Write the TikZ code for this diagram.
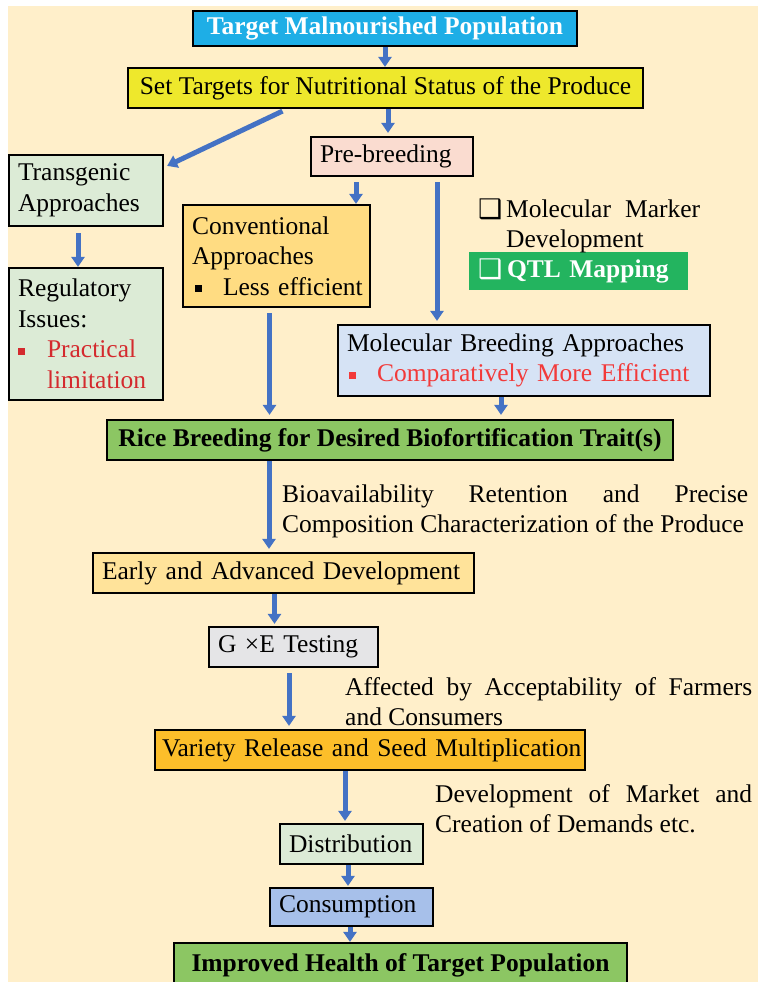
\documentclass[tikz,border=0pt]{standalone}
\usepackage{fontspec}
\setmainfont{Liberation Serif}
\newfontfamily\djv{DejaVu Sans}
\usetikzlibrary{arrows.meta}
\definecolor{bgc}{HTML}{FFEFCA}
\definecolor{tmpc}{HTML}{1EAEE6}
\definecolor{setc}{HTML}{EEE82C}
\definecolor{prec}{HTML}{FADCD0}
\definecolor{lgc}{HTML}{DCEBD6}
\definecolor{convc}{HTML}{FFDC82}
\definecolor{molc}{HTML}{D6E3F5}
\definecolor{qtlc}{HTML}{23B45F}
\definecolor{grc}{HTML}{8CC663}
\definecolor{earlyc}{HTML}{FFE39A}
\definecolor{gxec}{HTML}{E5E5E7}
\definecolor{varc}{HTML}{FCBE2A}
\definecolor{consc}{HTML}{A7C0EA}
\definecolor{arrc}{HTML}{4472C4}
\definecolor{redA}{HTML}{D42A2E}
\definecolor{redB}{HTML}{F23A3A}
\newcommand\fs{\fontsize{25.5}{30.5}\selectfont}
\newcommand\fsb{\fontsize{25.5}{30.5}\selectfont\bfseries}
\newcommand\bul[1]{\textcolor{#1}{\rule[3pt]{7pt}{7pt}}}
\newcommand\sqbox{\raisebox{-1pt}[0pt][0pt]{\djv\fontsize{27}{27}\selectfont ❑}}
\begin{document}
\begin{tikzpicture}[x=1pt,y=-1pt,
  box/.style={draw=black, line width=2.2pt, inner sep=0pt, inner xsep=9pt, font=\fs, text=black},
  lbox/.style={box, align=left},
  cbox/.style={box, align=center, font=\fsb},
  free/.style={inner sep=0pt, font=\fs, align=left, anchor=north west},
  arr/.style={draw=arrc, line width=5pt, -{Triangle[width=13pt,length=10pt]}}]
\useasboundingbox (0,0) rectangle (758,982);
\fill[bgc] (8,6) rectangle (758,982);

% boxes
\node[cbox, fill=tmpc, text=white, minimum width=384pt, minimum height=35pt] (tmp) at (385,28.5) {Target Malnourished Population};
\node[box, fill=setc, minimum width=515pt, minimum height=40pt] (set) at (385.5,88) {Set Targets for Nutritional Status of the Produce};
\node[lbox, fill=prec, text width=144pt, minimum height=39pt] (pre) at (392,156.5) {Pre-breeding};
\node[lbox, fill=lgc, text width=136pt, minimum height=71pt] (trans) at (86,190.5) {Transgenic\\Approaches};
\node[lbox, fill=convc, text width=169pt, minimum height=102pt] (conv) at (276.5,256) {Conventional\\Approaches\\\mbox{\makebox[31pt][l]{\hspace{3pt}\bul{black}}Less efficient}};
\node[lbox, fill=lgc, text width=136pt, minimum height=132pt] (reg) at (86,334) {Regulatory\\Issues:\\\makebox[29pt][l]{\bul{redA}}\textcolor{redA}{Practical}\\\hspace*{29pt}\textcolor{redA}{limitation}};
\node[lbox, fill=molc, text width=354pt, minimum height=71pt] (mol) at (524,360.5) {\mbox{Molecular Breeding Approaches}\\\mbox{\makebox[30pt][l]{\hspace{2pt}\bul{redB}}\textcolor{redB}{Comparatively More Efficient}}};
\node[lbox, fill=qtlc, draw=none, text=white, font=\fsb, text width=201pt, minimum height=38pt] (qtl) at (578.5,271) {\mbox{\makebox[29pt][l]{\sqbox}QTL Mapping}};
\node[free] (mmk) at (478,195.6) {\strut\makebox[28pt][l]{\sqbox}\makebox[194pt][s]{Molecular Marker}\\\hspace*{28pt}Development};
\node[cbox, fill=grc, minimum width=566pt, minimum height=40pt] (rice) at (390,440) {Rice Breeding for Desired Biofortification Trait(s)};
\node[free] (bio) at (282,480.6) {\strut\makebox[466pt][s]{Bioavailability Retention and Precise}\\Composition Characterization of the Produce};
\node[lbox, fill=earlyc, text width=363pt, minimum height=40pt] (early) at (283.5,573) {\mbox{Early and Advanced Development}};
\node[lbox, fill=gxec, text width=151pt, minimum height=40pt] (gxe) at (293.5,647) {\mbox{G ×E Testing}};
\node[free] (aff) at (345,673.6) {\strut\makebox[407pt][s]{Affected by Acceptability of Farmers}\\and Consumers};
\node[lbox, fill=varc, inner xsep=7pt, text width=416pt, minimum height=40pt] (var) at (370,750) {\mbox{Variety Release and Seed Multiplication}};
\node[free] (dev) at (435,780.6) {\strut\makebox[317pt][s]{Development of Market and}\\Creation of Demands etc.};
\node[lbox, fill=lgc, text width=125pt, minimum height=40pt] (dist) at (351.5,844) {Distribution};
\node[lbox, fill=consc, text width=145pt, minimum height=38pt] (cons) at (351.5,907) {Consumption};
\node[cbox, fill=grc, minimum width=453pt, minimum height=50pt] (imp) at (400.5,968) {\raisebox{10pt}{Improved Health of Target Population}};

% arrows
\draw[arr] (tmp.south) -- (tmp.south |- set.north);
\draw[arr] ([xshift=2.5pt]set.south) -- ([xshift=2.5pt,yshift=3pt]set.south |- pre.north);
\draw[arr] ([xshift=-103pt,yshift=-2pt]set.south) -- ([xshift=3pt,yshift=-12pt]trans.north east);
\draw[arr] ([xshift=-8pt,yshift=-6pt]trans.south) -- ([xshift=-8pt]trans.south |- reg.north);
\draw[arr] ([xshift=-36pt,yshift=-5pt]pre.south) -- ([xshift=-36pt]pre.south |- conv.north);
\draw[arr] ([xshift=45pt,yshift=-5pt]pre.south) -- ([xshift=45pt,yshift=3pt]pre.south |- mol.north);
\draw[arr] ([xshift=-7pt,yshift=-5pt]conv.south) -- ([xshift=-7pt,yshift=4pt]conv.south |- rice.north);
\draw[arr] ([xshift=-23pt]mol.south) -- ([xshift=-23pt,yshift=4pt]mol.south |- rice.north);
\draw[arr] ([xshift=-121pt]rice.south) -- ([xshift=-121pt,yshift=3pt]rice.south |- early.north);
\draw[arr] ([xshift=-9pt]early.south) -- ([xshift=-9pt,yshift=2pt]early.south |- gxe.north);
\draw[arr] ([xshift=-4.5pt,yshift=-5pt]gxe.south) -- ([xshift=-4.5pt,yshift=3pt]gxe.south |- var.north);
\draw[arr] ([xshift=-25pt]var.south) -- ([xshift=-25pt,yshift=2pt]var.south |- dist.north);
\draw[arr] ([xshift=-3.5pt]dist.south) -- ([xshift=-3.5pt,yshift=1pt]dist.south |- cons.north);
\draw[arr] ([xshift=-1.5pt]cons.south) -- ([xshift=-1.5pt]cons.south |- imp.north);
\end{tikzpicture}
\end{document}
